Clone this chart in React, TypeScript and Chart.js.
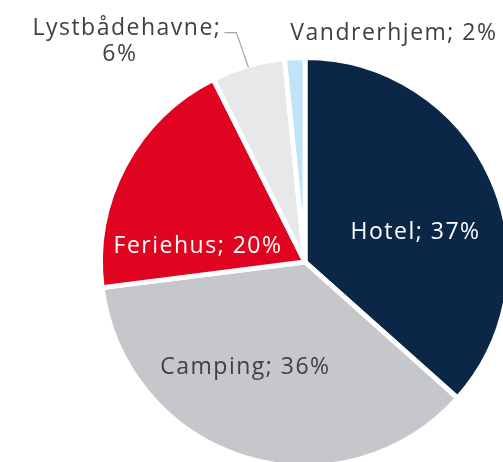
import React, { useEffect, useRef } from 'react';
import { Chart, registerables } from 'chart.js';

Chart.register(...registerables);

const categories = ['Hotel', 'Camping', 'Feriehus', 'Lystbådehavne', 'Vandrerhjem'];
const shares = [36.6, 36.4, 19.6, 5.8, 1.6];
const sliceColors = ['#0B2747', '#C6C7CB', '#E00420', '#E7E8EA', '#BFE3F9'];
const labelColors = ['#FFFFFF', '#404040', '#FFFFFF', '#404040', '#404040'];

// label anchors: degrees clockwise from 12 o'clock, distance as a fraction of the pie radius
const labelPlacement: { angle: number; dist: number; wrap?: boolean; shift?: number[]; leader?: boolean }[] = [
  { angle: 74.1, dist: 0.562 },
  { angle: 209.8, dist: 0.586 },
  { angle: 279.3, dist: 0.53 },
  { angle: 320.8, dist: 1.405, wrap: true, shift: [3.5, -3.5], leader: true },
  { angle: 21.1, dist: 1.208 },
];

const FONT_SIZE = 23;
const LINE_HEIGHT = 26;

const labelPlugin = {
  id: 'sliceLabels',
  afterDatasetsDraw(chart: any) {
    const ctx: CanvasRenderingContext2D = chart.ctx;
    const meta = chart.getDatasetMeta(0);
    const arcs = meta.data as any[];
    if (!arcs.length) return;
    const cx = arcs[0].x;
    const cy = arcs[0].y;
    const R = arcs[0].outerRadius;
    ctx.save();
    ctx.font = `${FONT_SIZE}px "Open Sans"`;
    ctx.textAlign = 'center';
    ctx.textBaseline = 'alphabetic';
    (ctx as any).letterSpacing = '1.5px';
    const capHalf = FONT_SIZE * 0.357;
    categories.forEach((name, i) => {
      const p = labelPlacement[i];
      const a = ((p.angle - 90) * Math.PI) / 180;
      const x = cx + Math.cos(a) * p.dist * R;
      const y = cy + Math.sin(a) * p.dist * R;
      const pct = Math.round(shares[i]) + '%';
      const lines = p.wrap ? [name + ';', pct] : [`${name}; ${pct}`];
      ctx.fillStyle = labelColors[i];
      let firstRight = 0;
      let firstBase = 0;
      lines.forEach((ln, k) => {
        const ly = y + (k - (lines.length - 1) / 2) * LINE_HEIGHT + capHalf;
        const lx = x + (p.shift ? p.shift[k] : 0);
        ctx.fillText(ln, lx, ly);
        if (k === 0) {
          firstRight = lx + ctx.measureText(ln).width / 2;
          firstBase = ly;
        }
      });
      if (p.leader) {
        const arc = arcs[i];
        const mid = (arc.startAngle + arc.endAngle) / 2;
        const sx = firstRight + 3;
        const sy = firstBase - 2;
        const ex = cx + Math.cos(mid) * (R - 2);
        const ey = cy + Math.sin(mid) * (R - 2);
        ctx.strokeStyle = '#A6A6A6';
        ctx.lineWidth = 1.2;
        ctx.beginPath();
        ctx.moveTo(sx, sy);
        ctx.lineTo(sx + 12, sy);
        ctx.lineTo(ex, ey);
        ctx.stroke();
      }
    });
    ctx.restore();
  },
};

export default function App() {
  const ref = useRef<HTMLCanvasElement>(null);
  useEffect(() => {
    const chart = new Chart(ref.current!, {
      type: 'pie',
      data: {
        labels: categories,
        datasets: [
          {
            data: shares,
            backgroundColor: sliceColors,
            borderColor: '#FFFFFF',
            borderWidth: 5,
            hoverOffset: 0,
            radius: 204.5,
            clip: false as any,
          } as any,
        ],
      },
      options: {
        responsive: false,
        animation: false,
        events: [],
        layout: { padding: { left: 107, right: 0, top: 62, bottom: 0 } },
        plugins: { legend: { display: false }, tooltip: { enabled: false } },
      },
      plugins: [labelPlugin],
    });
    return () => chart.destroy();
  }, []);
  return (
    <div style={{ position: 'fixed', left: 0, top: 0, width: 503, height: 462, background: '#FFFFFF' }}>
      <canvas ref={ref} width={503} height={462} style={{ display: 'block' }} />
    </div>
  );
}
